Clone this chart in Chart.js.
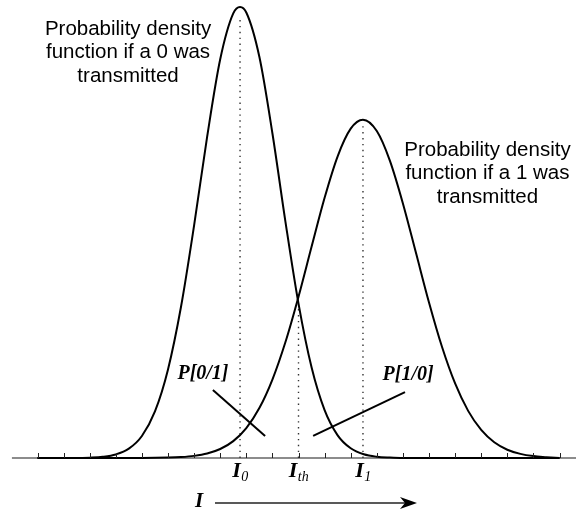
<!DOCTYPE html>
<html>
<head>
<meta charset="utf-8">
<script src="https://cdn.jsdelivr.net/npm/chart.js@4/dist/chart.umd.min.js"></script>
<style>
html,body{margin:0;padding:0;background:#fff;}
canvas{display:block;}
</style>
</head>
<body>
<canvas id="c" width="576" height="516"></canvas>
<script>
// ---- data (x in tick units, y as relative density) ----
const pdf0X = [0, 1.5, 2, 2.5, 3, 3.5, 4, 4.5, 5, 5.5, 6, 6.5, 7, 7.5, 7.76, 8, 8.5, 9, 9.5, 10, 10.5, 11, 11.5, 12, 12.5, 13, 13.5, 14, 20];
const pdf0Y = [0, 0, 0.0008, 0.0027, 0.0079, 0.0207, 0.0488, 0.1032, 0.1964, 0.3358, 0.5158, 0.7124, 0.884, 0.9857, 1.0, 0.9878, 0.8896, 0.72, 0.5237, 0.3423, 0.201, 0.1061, 0.0503, 0.0215, 0.0082, 0.0028, 0.0009, 0, 0];
const pdf1X = [0, 4, 5, 5.5, 6, 6.5, 7, 7.5, 8, 8.5, 9, 9.5, 10, 10.5, 11, 11.5, 12, 12.47, 13, 13.5, 14, 14.5, 15, 15.5, 16, 16.5, 17, 17.5, 18, 18.5, 19, 19.5, 20];
const pdf1Y = [0, 0.0001, 0.0009, 0.0021, 0.0047, 0.0099, 0.0199, 0.0374, 0.0664, 0.1107, 0.174, 0.2572, 0.3577, 0.4683, 0.577, 0.669, 0.7302, 0.75, 0.7249, 0.6594, 0.5645, 0.4549, 0.3449, 0.2461, 0.1653, 0.1045, 0.0622, 0.0348, 0.0183, 0.0091, 0.0042, 0.0019, 0];
const tickValues = [0,1,2,3,4,5,6,7,8,9,10,11,12,13,14,15,16,17,18,19,20];
const markerX = [7.76, 10, 12.47];            // I0, Ith, I1
const markerTop = [0.98, 0.34, 0.74];
const markerMain = ['I', 'I', 'I'];
const markerSub = ['0', 'th', '1'];
const leader01 = [{x: 6.72, y: 0.151}, {x: 8.72, y: 0.049}];
const leader10 = [{x: 14.08, y: 0.146}, {x: 10.56, y: 0.049}];
const probLabels = [{text: 'P[0/1]', x: 6.34, y: 0.186}, {text: 'P[1/0]', x: 14.2, y: 0.184}];
const pdf0Text = ['Probability density', 'function if a 0 was', 'transmitted'];
const pdf1Text = ['Probability density', 'function if a 1 was', 'transmitted'];
const pdf0TextPos = {x: 3.47, y: [0.938, 0.887, 0.834]};
const pdf1TextPos = {x: 17.24, y: [0.670, 0.619, 0.565]};
const arrowLabel = {text: 'I', x: 6.19, y: -0.109};
const arrowFrom = {x: 6.8, y: -0.0998};
const arrowTo = {x: 14.54, y: -0.0998};
const axisStart = -0.98;

const toPts = (xs, ys) => xs.map((x, i) => ({x: x, y: ys[i]}));
const markerLines = markerX.map((x, i) => ({
  data: [{x: x, y: 0}, {x: x, y: markerTop[i]}],
  showLine: true, borderColor: '#333', borderWidth: 1.4, borderDash: [1.4, 4.5],
  pointRadius: 0, clip: false, order: 3
}));

const decor = {
  id: 'decor',
  beforeDatasetsDraw(chart) {
    const c = chart.ctx, xs = chart.scales.x, ys = chart.scales.y;
    const y0 = ys.getPixelForValue(0);
    c.save();
    c.strokeStyle = '#8c8c8c';
    c.lineWidth = 2.2;
    c.beginPath();
    c.moveTo(xs.getPixelForValue(axisStart), y0);
    c.lineTo(chart.chartArea.right, y0);
    c.stroke();
    c.restore();
  },
  afterDatasetsDraw(chart) {
    const c = chart.ctx, xs = chart.scales.x, ys = chart.scales.y;
    const px = v => xs.getPixelForValue(v), py = v => ys.getPixelForValue(v);
    const y0 = py(0);
    c.save();
    // tick marks
    c.strokeStyle = '#222';
    c.lineWidth = 1;
    c.beginPath();
    tickValues.forEach(t => {
      const x = Math.round(px(t)) + 0.5;
      c.moveTo(x, y0);
      c.lineTo(x, y0 - 5);
    });
    c.stroke();
    // text blocks
    c.fillStyle = '#000';
    c.font = '20.5px "Liberation Sans", Arial, sans-serif';
    c.textAlign = 'center';
    c.textBaseline = 'alphabetic';
    pdf0Text.forEach((t, i) => c.fillText(t, px(pdf0TextPos.x), py(pdf0TextPos.y[i])));
    pdf1Text.forEach((t, i) => c.fillText(t, px(pdf1TextPos.x), py(pdf1TextPos.y[i])));
    // P labels
    c.font = 'italic bold 20px "Liberation Serif", "Times New Roman", serif';
    c.textBaseline = 'middle';
    probLabels.forEach(l => c.fillText(l.text, px(l.x), py(l.y)));
    // marker labels with subscripts
    c.textAlign = 'left';
    c.textBaseline = 'alphabetic';
    const labY = py(-0.042);
    const mainFont = 'italic bold 22px "Liberation Serif", "Times New Roman", serif';
    const subFont = 'italic 14px "Liberation Serif", "Times New Roman", serif';
    markerX.forEach((x, i) => {
      c.font = mainFont;
      const w1 = c.measureText(markerMain[i]).width;
      c.font = subFont;
      const w2 = c.measureText(markerSub[i]).width;
      const start = px(x) - (w1 + w2) / 2;
      c.font = mainFont;
      c.fillText(markerMain[i], start, labY);
      c.font = subFont;
      c.fillText(markerSub[i], start + w1 + 0.5, labY + 4);
    });
    // arrow
    c.font = 'italic bold 21px "Liberation Serif", "Times New Roman", serif';
    c.textAlign = 'center';
    c.fillText(arrowLabel.text, px(arrowLabel.x), py(arrowLabel.y));
    const ax1 = px(arrowFrom.x), ax2 = px(arrowTo.x), ay = py(arrowFrom.y);
    c.strokeStyle = '#222';
    c.lineWidth = 1.3;
    c.beginPath();
    c.moveTo(ax1, ay);
    c.lineTo(ax2 - 6, ay);
    c.stroke();
    c.fillStyle = '#000';
    c.beginPath();
    c.moveTo(ax2, ay);
    c.lineTo(ax2 - 17, ay - 6);
    c.lineTo(ax2 - 12, ay);
    c.lineTo(ax2 - 17, ay + 6);
    c.closePath();
    c.fill();
    c.restore();
  }
};

new Chart(document.getElementById('c'), {
  type: 'scatter',
  data: {
    datasets: [
      {data: toPts(pdf0X, pdf0Y), showLine: true, borderColor: '#000', borderWidth: 2, pointRadius: 0, cubicInterpolationMode: 'monotone', clip: false, order: 1},
      {data: toPts(pdf1X, pdf1Y), showLine: true, borderColor: '#000', borderWidth: 2, pointRadius: 0, cubicInterpolationMode: 'monotone', clip: false, order: 1},
      {data: leader01, showLine: true, borderColor: '#000', borderWidth: 2, pointRadius: 0, clip: false, order: 2},
      {data: leader10, showLine: true, borderColor: '#000', borderWidth: 2, pointRadius: 0, clip: false, order: 2}
    ].concat(markerLines)
  },
  options: {
    responsive: false,
    devicePixelRatio: 1,
    animation: false,
    events: [],
    layout: {padding: 0},
    plugins: {legend: {display: false}, tooltip: {enabled: false}},
    scales: {
      x: {type: 'linear', display: false, min: -1.437, max: 20.632},
      y: {type: 'linear', display: false, min: -0.1286, max: 1.0155}
    }
  },
  plugins: [decor]
});
</script>
</body>
</html>
